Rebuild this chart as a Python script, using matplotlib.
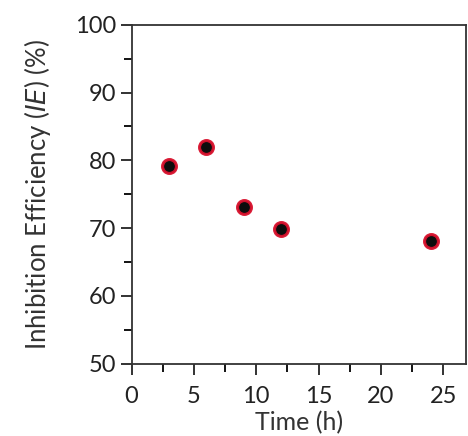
import matplotlib
matplotlib.use('Agg')
import matplotlib.pyplot as plt
from matplotlib.ticker import MultipleLocator

# data
time_h = [3, 6, 9, 12, 24]
ie_pct = [79.2, 82.0, 73.1, 69.8, 68.1]

plt.rcParams['font.family'] = ['Lato', 'DejaVu Sans']

fig = plt.figure(figsize=(4.68, 4.36), dpi=100)
ax = fig.add_axes([0.281, 0.166, 0.714, 0.777])

ax.plot(time_h, ie_pct, 'o', ms=10, mfc='black', mec='#d8102c', mew=2.2, alpha=0.95)

ax.set_xlim(0, 26.8)
ax.set_ylim(50, 100)
ax.xaxis.set_major_locator(MultipleLocator(5))
ax.xaxis.set_minor_locator(MultipleLocator(2.5))
ax.yaxis.set_major_locator(MultipleLocator(10))
ax.yaxis.set_minor_locator(MultipleLocator(5))
ax.tick_params(which='major', direction='out', length=8, width=1.3, labelsize=17,
               colors='#222222')
ax.tick_params(which='minor', direction='out', length=5.5, width=1.3)
ax.tick_params(axis='x', which='major', pad=8)
ax.tick_params(axis='y', which='major', pad=3)
for s in ax.spines.values():
    s.set_linewidth(1.3)
    s.set_color('#333333')

ax.set_xlabel('Time (h)', fontsize=18, color='#333333', labelpad=3)
ax.set_ylabel('Inhibition Efficiency ($\\it{IE}$) (%)', fontsize=18.5, color='#333333', labelpad=16)

fig.savefig('out.png', dpi=100)
